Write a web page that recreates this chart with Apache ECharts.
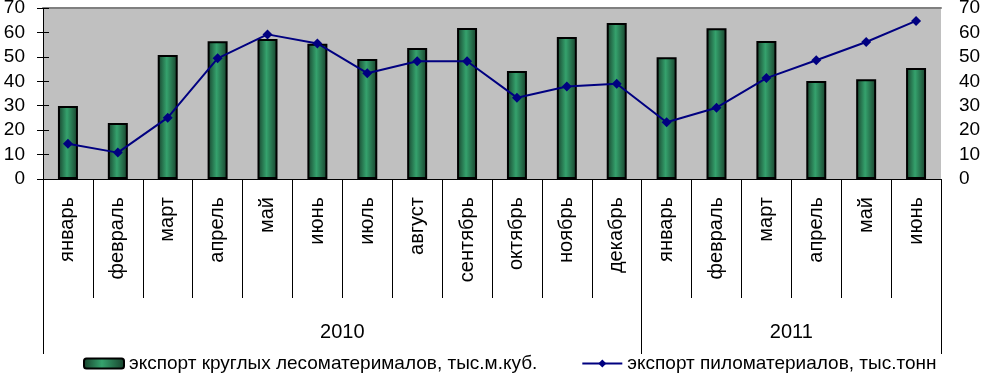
<!DOCTYPE html>
<html>
<head>
<meta charset="utf-8">
<script src="https://cdn.jsdelivr.net/npm/echarts@6/dist/echarts.min.js"></script>
<style>
html,body{margin:0;padding:0;background:#fff;}
#c{width:985px;height:373px;}
</style>
</head>
<body>
<div id="c"></div>
<script>
const months = ['январь','февраль','март','апрель','май','июнь','июль','август','сентябрь','октябрь','ноябрь','декабрь','январь','февраль','март','апрель','май','июнь'];
const years = ['2010','2011'];
const yearCounts = [12, 6];
const roundWood = [29.9, 22.9, 50.8, 56.4, 57.3, 55.4, 49.1, 53.6, 61.8, 44.2, 58.1, 63.9, 49.8, 61.7, 56.5, 40.1, 40.8, 45.4];
const sawnWood = [14.4, 10.8, 25.1, 49.4, 59.2, 55.5, 43.3, 48.2, 48.2, 33.3, 37.9, 39.0, 23.2, 29.2, 41.3, 48.6, 56.1, 64.7];
const seriesNames = ['экспорт круглых лесоматерималов, тыс.м.куб.', 'экспорт пиломатериалов, тыс.тонн'];
const yTicks = [0, 10, 20, 30, 40, 50, 60, 70];

const FONT = "'Liberation Sans', Arial, sans-serif";
const total = yearCounts.reduce((a, b) => a + b, 0);
const bounds = [0];
const centers = [];
yearCounts.forEach((n, i) => { centers.push(bounds[i] + n / 2); bounds.push(bounds[i] + n); });

const chart = echarts.init(document.getElementById('c'));
const barGrad = new echarts.graphic.LinearGradient(0, 0, 1, 0, [
  {offset: 0, color: '#173f2b'},
  {offset: 0.45, color: '#35a26d'},
  {offset: 1, color: '#173f2b'}
]);
chart.setOption({
  animation: false,
  textStyle: {fontFamily: FONT},
  grid: {left: 43, right: 44, top: 8, bottom: 194, show: true, backgroundColor: '#c0c0c0', borderWidth: 0, containLabel: false, outerBoundsMode: 'none'},
  legend: {
    data: seriesNames,
    left: 83, top: 354, padding: 0, itemGap: 44,
    itemWidth: 40, itemHeight: 10,
    textStyle: {fontFamily: FONT, fontSize: 19, color: '#000'}
  },
  xAxis: [
    {
      type: 'category', data: months, position: 'bottom',
      axisLine: {lineStyle: {color: '#000', width: 1}},
      axisTick: {show: true, interval: 0, length: 119, lineStyle: {color: '#000'}},
      axisLabel: {interval: 0, rotate: 90, margin: 18, fontSize: 20, color: '#000', fontFamily: FONT},
      splitLine: {show: false}
    },
    {
      type: 'value', min: 0, max: total, position: 'bottom',
      axisLine: {show: false},
      axisTick: {show: true, customValues: bounds, length: 175, lineStyle: {color: '#000'}},
      axisLabel: {show: true, customValues: centers, margin: 143, fontSize: 20, color: '#000', fontFamily: FONT,
        formatter: v => { const i = centers.indexOf(v); return i >= 0 ? years[i] : ''; }},
      splitLine: {show: false}
    },
    {
      type: 'value', min: 0, max: total, position: 'top',
      axisLine: {show: true, lineStyle: {color: '#808080', width: 2}},
      axisTick: {show: false}, axisLabel: {show: false}, splitLine: {show: false}
    }
  ],
  yAxis: [
    {
      type: 'value', min: yTicks[0], max: yTicks[yTicks.length - 1], interval: 10, position: 'left',
      axisLine: {show: true, lineStyle: {color: '#000'}},
      axisTick: {show: true, length: 6, lineStyle: {color: '#000'}},
      axisLabel: {margin: 18, fontSize: 19, color: '#000', fontFamily: FONT},
      splitLine: {show: false}
    },
    {
      type: 'value', min: yTicks[0], max: yTicks[yTicks.length - 1], interval: 10, position: 'right',
      axisLine: {show: true, lineStyle: {color: '#000'}},
      axisTick: {show: true, length: 6, lineStyle: {color: '#000'}},
      axisLabel: {margin: 18, fontSize: 19, color: '#000', fontFamily: FONT},
      splitLine: {show: false}
    }
  ],
  series: [
    {
      name: seriesNames[0], type: 'bar', xAxisIndex: 0, yAxisIndex: 0,
      data: roundWood, barWidth: 20,
      itemStyle: {color: barGrad, borderColor: '#000', borderWidth: 2}
    },
    {
      name: seriesNames[1], type: 'line', xAxisIndex: 0, yAxisIndex: 1,
      data: sawnWood, symbol: 'diamond', symbolSize: 10,
      lineStyle: {color: '#000080', width: 2},
      itemStyle: {color: '#000080'}
    }
  ]
});
</script>
</body>
</html>
